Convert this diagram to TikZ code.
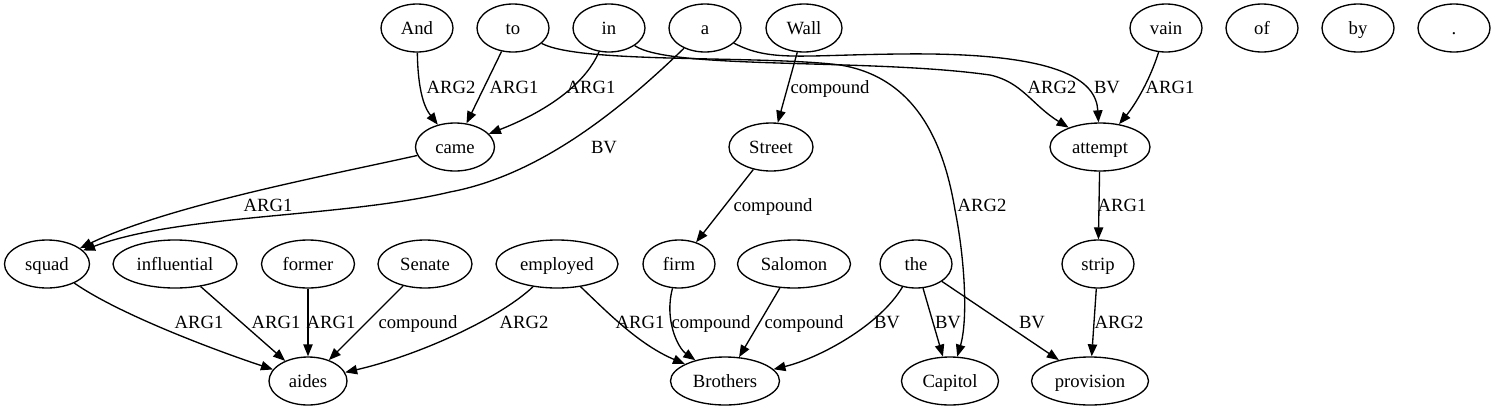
\documentclass[tikz,border=0pt]{standalone}
\usepackage{fontspec}
\setmainfont{Liberation Serif}
\usetikzlibrary{shapes.geometric,arrows.meta}
\tikzset{
  nd/.style={ellipse,draw,line width=1pt,inner sep=0pt,minimum height=36pt,minimum width=#1,text height=12pt,text depth=3pt,font=\fontsize{14pt}{16pt}\selectfont},
  nd/.default=54pt,
  edge/.style={draw,line width=1pt,-{Triangle[length=9pt,width=7pt]}},
  lbl/.style={inner sep=0pt,text height=12pt,text depth=3pt,font=\fontsize{14pt}{16pt}\selectfont}
}
\begin{document}
\begin{tikzpicture}[x=0.75pt,y=-0.75pt]
\useasboundingbox (0,0) rectangle (1496,411);
% row 1
\node[nd] (And) at (417,28) {And};
\node[nd] (to) at (513,28) {to};
\node[nd] (in) at (609,28) {in};
\node[nd] (a) at (705,28) {a};
\node[nd=57pt] (Wall) at (804,28) {Wall};
\node[nd] (vain) at (1166,28) {vain};
\node[nd] (of) at (1262,28) {of};
\node[nd] (by) at (1358,28) {by};
\node[nd] (dot) at (1454,28) {.};
% row 2
\node[nd=59.25pt] (came) at (455,147) {came};
\node[nd=63pt] (Street) at (771,147) {Street};
\node[nd=75pt] (attempt) at (1100,147) {attempt};
% row 3
\node[nd=63.75pt] (squad) at (47,264) {squad};
\node[nd=93pt] (influential) at (175,264) {influential};
\node[nd=69.75pt] (former) at (308,264) {former};
\node[nd=70.5pt] (Senate) at (425,264) {Senate};
\node[nd=91.5pt] (employed) at (557,264) {employed};
\node[nd] (firm) at (679,264) {firm};
\node[nd=84.75pt] (Salomon) at (794,264) {Salomon};
\node[nd] (the) at (916,264) {the};
\node[nd] (strip) at (1098,264) {strip};
% row 4
\node[nd=58.5pt] (aides) at (308,381) {aides};
\node[nd=81.75pt] (Brothers) at (725,381) {Brothers};
\node[nd=72.75pt] (Capitol) at (950,381) {Capitol};
\node[nd=87.75pt] (provision) at (1090,381) {provision};
% edges
\draw[edge] (And) .. controls (418,100) and (428,112) .. (came) node[lbl] at (451,87) {ARG2};
\draw[edge] (to) -- (came) node[lbl] at (514,87) {ARG1};
\draw[edge] (in) .. controls (585,85) and (545,112) .. (came) node[lbl] at (591,87) {ARG1};
\draw[edge] (a) .. controls (620,110) and (540,175) .. (450,192) .. controls (340,218) and (180,214) .. (squad) node[lbl] at (604,147) {BV};
\draw[edge] (came) .. controls (330,175) and (170,205) .. (squad) node[lbl] at (268,205) {ARG1};
\draw[edge] (Wall) -- (Street) node[lbl] at (830,87) {compound};
\draw[edge] (in) .. controls (670,70) and (870,58) .. (990,75) .. controls (1022,82) and (1032,105) .. (attempt) node[lbl] at (1052,87) {ARG2};
\draw[edge] (a) .. controls (770,62) and (800,55) .. (900,54) .. controls (1060,52) and (1096,80) .. (attempt) node[lbl] at (1107,87) {BV};
\draw[edge] (vain) .. controls (1150,80) and (1135,105) .. (attempt) node[lbl] at (1170,87) {ARG1};
\draw[edge] (to) .. controls (580,64) and (760,55) .. (840,65) .. controls (920,78) and (945,150) .. (955,210) .. controls (965,260) and (968,320) .. (Capitol) node[lbl] at (982,205) {ARG2};
\draw[edge] (Street) -- (firm) node[lbl] at (773,205) {compound};
\draw[edge] (attempt) -- (strip) node[lbl] at (1122,205) {ARG1};
\draw[edge] (squad) .. controls (120,315) and (220,352) .. (aides) node[lbl] at (199,322) {ARG1};
\draw[edge] (influential) -- (aides) node[lbl] at (276,322) {ARG1};
\draw[edge] (former) -- (aides) node[lbl] at (331,322) {ARG1};
\draw[edge] (Senate) -- (aides) node[lbl] at (418,322) {compound};
\draw[edge] (employed) .. controls (500,318) and (420,355) .. (aides) node[lbl] at (524,322) {ARG2};
\draw[edge] (employed) .. controls (610,315) and (640,345) .. (Brothers) node[lbl] at (640,322) {ARG1};
\draw[edge] (firm) .. controls (664,320) and (678,348) .. (Brothers) node[lbl] at (711,322) {compound};
\draw[edge] (Salomon) -- (Brothers) node[lbl] at (804,322) {compound};
\draw[edge] (the) .. controls (880,325) and (820,358) .. (Brothers) node[lbl] at (887,322) {BV};
\draw[edge] (the) -- (Capitol) node[lbl] at (948,322) {BV};
\draw[edge] (the) -- (provision) node[lbl] at (1032,322) {BV};
\draw[edge] (strip) -- (provision) node[lbl] at (1119,322) {ARG2};
\end{tikzpicture}
\end{document}
